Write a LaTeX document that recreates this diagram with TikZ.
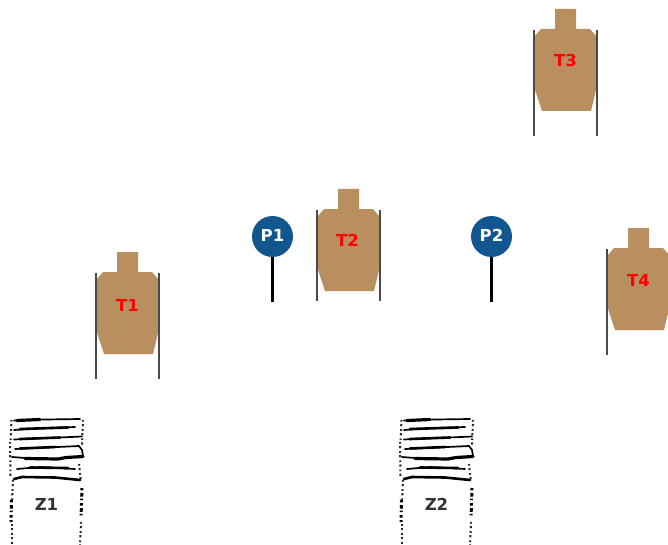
\documentclass[tikz,border=0pt]{standalone}
\usepackage{fontspec}
\setmainfont{DejaVu Sans}
\definecolor{tan1}{HTML}{BA8F60}
\definecolor{blue1}{HTML}{12568F}
\definecolor{stake}{HTML}{4A4A4A}
\tikzset{
  x=1pt,y=-1pt,
  lbl/.style={font=\bfseries\fontsize{16.5}{18}\selectfont,inner sep=0pt},
  tgtlabel/.style={lbl,text=red},
  stakeline/.style={draw=stake,line width=1.1pt},
  bar/.style={line width=3.2pt,black,line cap=round},
  midbar/.style={line width=2.6pt,black,line cap=round},
  thinbar/.style={line width=1.7pt,black,line cap=round},
  edgedots/.style={line width=3pt,black,dash pattern=on 2.4pt off 2.6pt on 3.6pt off 2pt on 1.6pt off 3pt},
  edgedotsb/.style={line width=2pt,black!85,dash pattern=on 1.6pt off 2.4pt on 2.2pt off 3pt},
  pics/target/.style={code={
    \fill[tan1] (-10.5,0) -- (10.5,0) -- (10.5,20) -- (24.5,20) -- (30.5,27) -- (30.5,81) -- (25.5,102) -- (-23.5,102) -- (-30.5,81) -- (-30.5,27) -- (-24.5,20) -- (-10.5,20) -- cycle;
  }},
  pics/stakeleft/.style={code={\draw[stakeline] (-31.5,21) -- (-31.5,127);}},
  pics/stakeright/.style={code={\draw[stakeline] (31.5,21) -- (31.5,127);}},
  pics/stakeleftshort/.style={code={\draw[stakeline] (-31.5,21) -- (-31.5,112);}},
  pics/stakerightshort/.style={code={\draw[stakeline] (31.5,21) -- (31.5,112);}},
  pics/popper/.style={code={
    \draw[line width=3pt,black] (0,15) -- (0,65);
    \fill[blue1] (0,0) circle (20.5);
  }},
  pics/zone/.style={code={
    % rungs
    \draw[thinbar] (14,420.5) -- (45,419.5) -- (80,419);
    \draw[bar] (17,420.5) -- (40,419.5);
    \draw[thinbar] (14,430) -- (45,428) -- (75,427);
    \draw[midbar] (20,429) -- (68,427.5);
    \draw[thinbar] (14,439.5) -- (82,436.5);
    \draw[midbar] (20,439) -- (60,437.5);
    \draw[thinbar] (15,449) -- (79,446) -- (82,450) -- (83,456);
    \draw[midbar] (20,448.5) -- (55,447);
    \draw[thinbar] (12,457) -- (25,458);
    \draw[bar] (25,458.5) -- (58,459) -- (66,457.5) -- (83,456.5);
    \draw[thinbar] (17,469) -- (40,467) -- (75,469);
    \draw[midbar] (30,467.5) -- (68,468);
    \draw[midbar] (14,479) -- (22,477) -- (55,477.5) -- (80,480);
    % side edges
    \draw[edgedotsb] (11.5,420) -- (10.5,440);
    \draw[edgedotsb] (10,442) -- (10.5,478);
    \draw[edgedotsb] (13,480) -- (12,500);
    \draw[edgedots] (11.5,500) -- (11,522);
    \draw[edgedotsb] (12,524) -- (12,545);
    \draw[edgedotsb] (83,420) -- (82,445);
    \draw[edgedotsb] (79,464) -- (81,482);
    \draw[edgedots] (82,488) -- (81,518);
    \draw[edgedotsb] (81,522) -- (80,545);
  }},
}
\begin{document}
\begin{tikzpicture}
\useasboundingbox[fill=white] (0,0) rectangle (668,545);
% targets
\pic at (127.5,252) {target}; \pic at (127.5,252) {stakeleft}; \pic at (127.5,252) {stakeright};
\pic at (348.5,189) {target}; \pic at (348.5,189) {stakeleftshort}; \pic at (348.5,189) {stakerightshort};
\pic at (565.5,9) {target};   \pic at (565.5,9) {stakeleft};   \pic at (565.5,9) {stakeright};
\pic at (638.5,228) {target}; \pic at (638.5,228) {stakeleft};
\node[tgtlabel] (t1) at (127.5,305) {T1};
\node[tgtlabel] (t2) at (347.5,240) {T2};
\node[tgtlabel] (t3) at (565.5,60) {T3};
\node[tgtlabel] (t4) at (638.5,280) {T4};
% poppers
\pic at (272.5,236.5) {popper};
\pic at (491.5,236.5) {popper};
\node[lbl,text=white] (p1) at (272.5,235.5) {P1};
\node[lbl,text=white] (p2) at (491.5,235.5) {P2};
% zones
\pic at (0,0) {zone};
\pic at (390,0) {zone};
\node[lbl,text=black!80] (z1) at (46.5,504) {Z1};
\node[lbl,text=black!80] (z2) at (436.5,504) {Z2};
\end{tikzpicture}
\end{document}
